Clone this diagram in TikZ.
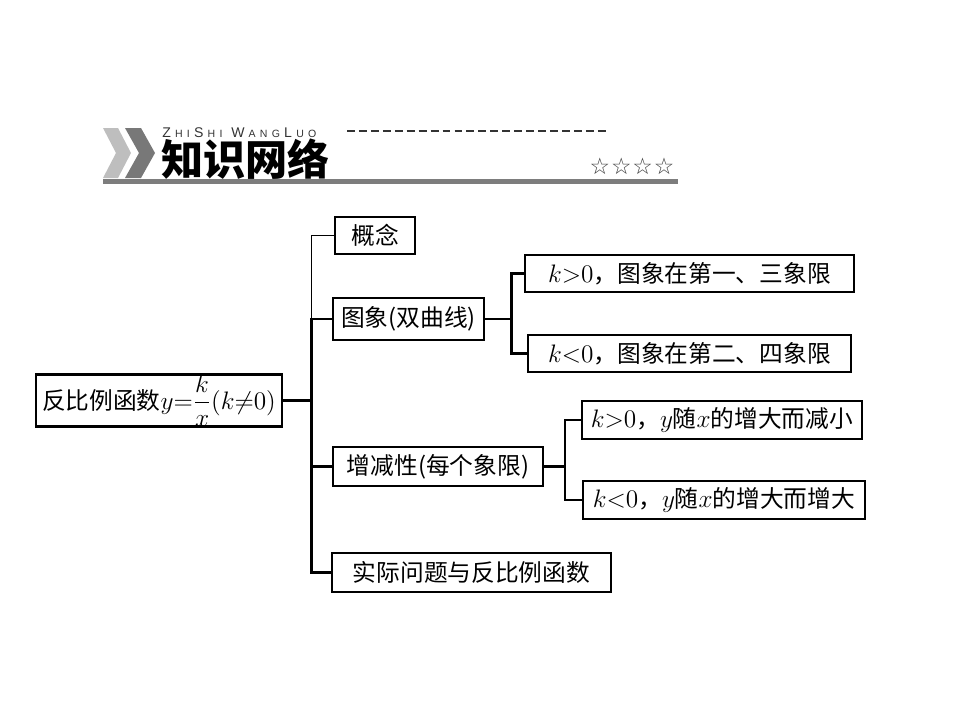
\documentclass[tikz,border=0pt]{standalone}
\usepackage{amsmath}
\usepackage{amssymb}
\usepackage{fontspec}
\setmainfont{Liberation Serif}
\newfontfamily\cjk{Noto Sans CJK SC}
\newfontfamily\starfont{DejaVu Sans}
\newfontfamily\pinyin{Liberation Sans}
\newlength{\unitpx}
\setlength{\unitpx}{0.02cm}
\definecolor{bargray}{RGB}{125,125,125}
\definecolor{chevlight}{RGB}{190,190,190}
\definecolor{chevdark}{RGB}{120,120,120}
\newcommand{\sm}[1]{{\fontsize{6}{7}\selectfont #1}}
\newcommand{\ls}{\hspace{2.4pt}}

\begin{document}
\begin{tikzpicture}[x=0.02cm,y=-0.02cm]
 % styles
 \tikzstyle{box} = [rectangle,draw=black,line width=1.4pt,inner sep=0pt,font=\cjk\fontsize{13.5}{16}\selectfont];
 \tikzstyle{thinlink} = [line width=0.8pt];
 \tikzstyle{thicklink} = [line width=1.7pt];

 \useasboundingbox (0,0) rectangle (960,720);

 % header
 \fill[chevlight] (103,128) -- (118,128) -- (131,153) -- (118,178) -- (103,178) -- (116,153) -- cycle;
 \fill[chevdark] (125,128) -- (141,128) -- (155,153) -- (141,178) -- (125,178) -- (139,153) -- cycle;
 \node[anchor=west,inner sep=0pt,text=black!80,font=\pinyin\fontsize{8}{9}\selectfont] (pinyin) at (162,133)
   {Z\ls\sm{H}\ls\sm{I}\ls S\ls\sm{H}\ls\sm{I}\hspace{5pt}W\ls\sm{A}\ls\sm{N}\ls\sm{G}\ls L\ls\sm{U}\ls\sm{O}};
 \node[anchor=west,inner sep=0pt,font=\cjk\bfseries\fontsize{24}{26}\selectfont] (title) at (161,159) {知识网络};
 \coordinate (dashL) at (347,131);
 \coordinate (dashR) at (607,131);
 \draw[line width=1.1pt,black!80,dash pattern=on 4.5pt off 2.3pt] (dashL) -- (dashR);
 \node[inner sep=0pt,font=\starfont\fontsize{13}{14}\selectfont,text=black!75] (stars) at (632,166) {☆\hspace{0.5pt}☆\hspace{0.5pt}☆\hspace{0.5pt}☆};
 \fill[bargray] (103,179) rectangle (678,184);

 % nodes
 \node[box,minimum width=246\unitpx,minimum height=51\unitpx] (root) at (159,400.5) {反比例函数$y{=}\dfrac{k}{x}(k{\neq}0)$};
 \node[box,minimum width=80\unitpx,minimum height=37\unitpx] (gainian) at (375,235.5) {概念};
 \node[box,minimum width=151\unitpx,minimum height=42\unitpx] (tuxiang) at (408.5,319) {图象(双曲线)};
 \node[box,minimum width=210\unitpx,minimum height=39\unitpx] (zengjian) at (438,466.5) {增减性(每个象限)};
 \node[box,minimum width=279\unitpx,minimum height=39\unitpx] (shiji) at (471.5,572.5) {实际问题与反比例函数};
 \node[box,minimum width=329\unitpx,minimum height=37\unitpx] (tupos) at (689.5,273.5) {$k{>}0$，图象在第一、三象限};
 \node[box,minimum width=323\unitpx,minimum height=37\unitpx] (tuneg) at (689.5,353.5) {$k{<}0$，图象在第二、四象限};
 \node[box,minimum width=280\unitpx,minimum height=38\unitpx] (zjpos) at (722,420) {$k{>}0$，$y$随$x$的增大而减小};
 \node[box,minimum width=282\unitpx,minimum height=38\unitpx] (zjneg) at (724,500) {$k{<}0$，$y$随$x$的增大而增大};

 % edges
 \draw[thicklink] (root.east) -- ++(28,0);
 \draw[thinlink] (root.east) ++(28,0) |- (gainian.west);
 \draw[thicklink] (root.east) ++(28,0) |- (tuxiang.west);
 \draw[line width=1.2pt] (root.east) ++(28,0) |- (zengjian.west);
 \draw[thicklink] (root.east) ++(28,0) |- (shiji.west);

 \draw[thicklink] (tuxiang.east) -- ++(26,0) |- (tupos.west);
 \draw[thicklink] (tuxiang.east) -- ++(26,0) |- (tuneg.west);

 \draw[line width=1.2pt] (zengjian.east) -- ++(21,0) |- (zjpos.west);
 \draw[line width=1.2pt] (zengjian.east) -- ++(21,0) |- (zjneg.west);
\end{tikzpicture}
\end{document}
